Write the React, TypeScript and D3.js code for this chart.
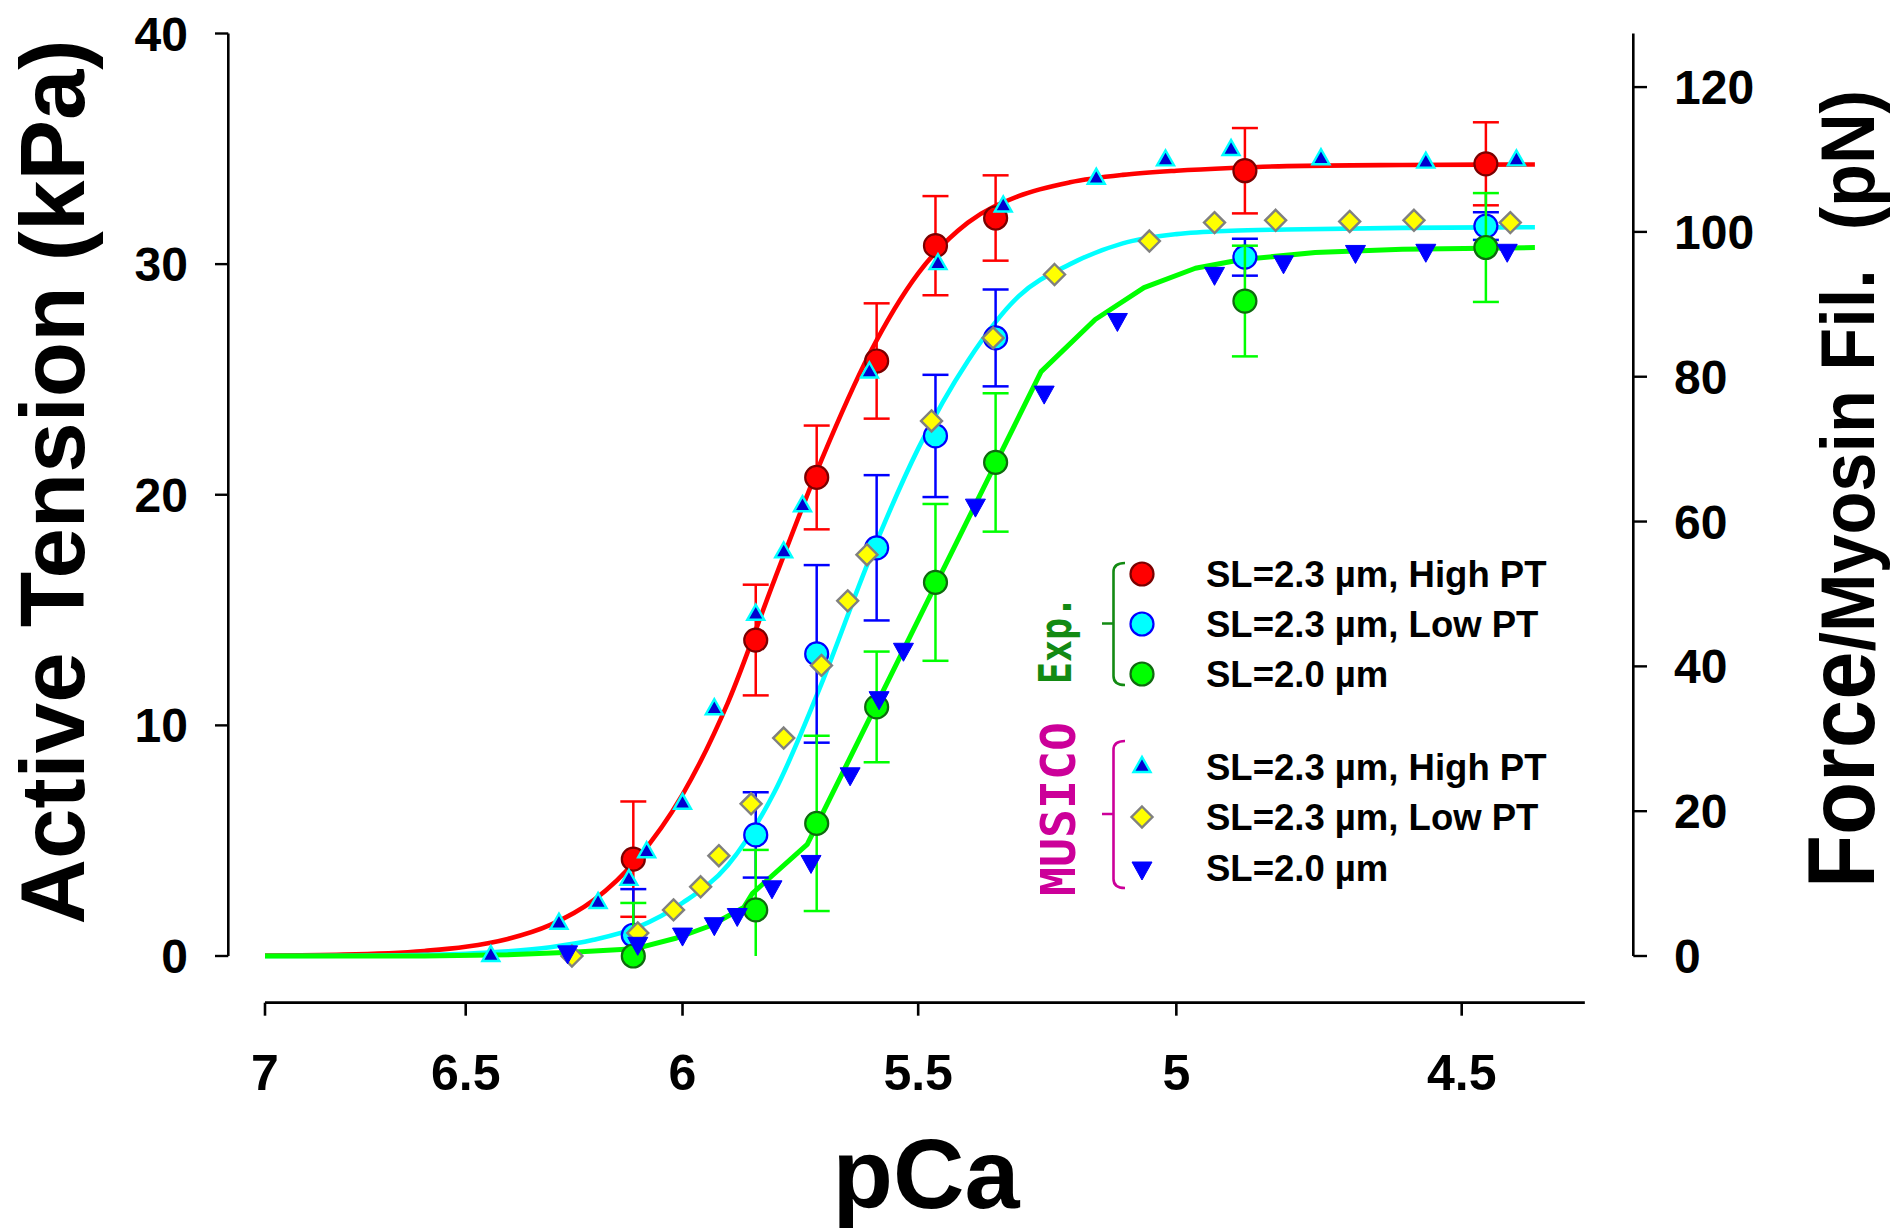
import React from "react";
import * as d3 from "d3";

// ---------- data ----------
const xTicks = [7, 6.5, 6, 5.5, 5, 4.5];
const yTicks = [0, 10, 20, 30, 40];
const yRightTicks = [0, 20, 40, 60, 80, 100, 120];

// Experimental data (circles with SD bars)
const expPCa = [6.11, 5.84, 5.71, 5.585, 5.465, 5.345, 4.875, 4.46];
const expHighPT = [4.2, 13.7, 20.75, 25.8, 30.8, 32.0, 34.05, 34.35];
const expHighPTErr = [2.5, 2.4, 2.25, 2.5, 2.15, 1.85, 1.85, 1.8];
const expLowPT = [0.9, 5.25, 13.1, 17.7, 22.55, 26.8, 30.3, 31.65];
const expLowPTErr = [2.0, 1.85, 3.85, 3.15, 2.65, 2.1, 0.8, 0.6];
const expSL20 = [0.0, 2.0, 5.75, 10.8, 16.2, 21.4, 28.4, 30.72];
const expSL20Err = [2.3, 2.6, 3.8, 2.4, 3.4, 3.0, 2.4, 2.36];

// MUSICO simulations
const musHighPCa = [6.44, 6.28, 6.19, 6.12, 6.08, 6.0, 5.93, 5.84, 5.78, 5.74, 5.6, 5.46, 5.33, 5.15, 5.02, 4.9, 4.74, 4.56, 4.41];
const musHighT = [0.0, 1.4, 2.3, 3.3, 4.5, 6.6, 10.7, 14.8, 17.5, 19.5, 25.3, 30.0, 32.5, 33.7, 34.5, 34.95, 34.55, 34.4, 34.5];
const musLowPCa = [6.25, 6.1, 6.02, 5.96, 5.92, 5.85, 5.78, 5.7, 5.645, 5.605, 5.473, 5.35, 5.23, 5.05, 4.93, 4.82, 4.69, 4.58, 4.42];
const musLowT = [0.0, 1.0, 2.0, 3.0, 4.35, 6.6, 9.45, 12.6, 15.4, 17.4, 23.2, 26.8, 29.55, 31.0, 31.8, 31.9, 31.85, 31.9, 31.8];
const musSL20PCa = [6.26, 6.1, 6.0, 5.93, 5.88, 5.805, 5.722, 5.64, 5.58, 5.53, 5.385, 5.25, 5.11, 4.93, 4.806, 4.68, 4.56, 4.425];
const musSL20T = [0.18, 0.55, 0.95, 1.4, 1.8, 3.0, 4.1, 7.9, 11.2, 13.3, 19.55, 24.45, 27.6, 29.6, 30.1, 30.55, 30.6, 30.6];

// Fitted curves
const fitPCa = [7.0, 6.8, 6.6, 6.5, 6.4, 6.3, 6.2, 6.1, 6.0, 5.9, 5.8, 5.7, 5.6, 5.5, 5.4, 5.3, 5.2, 5.1, 5.0, 4.9, 4.8, 4.6, 4.38];
const fitHighPT = [0.02, 0.06, 0.22, 0.4, 0.74, 1.35, 2.42, 4.24, 7.0, 11.0, 16.3, 21.5, 26.1, 29.6, 31.8, 32.95, 33.55, 33.87, 34.05, 34.17, 34.25, 34.3, 34.32];
const fitLowPT = [0.0, 0.01, 0.05, 0.1, 0.2, 0.38, 0.7, 1.25, 2.3, 3.95, 7.1, 11.8, 17.2, 22.0, 25.8, 28.6, 30.0, 30.9, 31.3, 31.45, 31.5, 31.57, 31.6];
const fitSL20PCa = [7.0, 6.6, 6.4, 6.24, 6.107, 6.013, 5.94, 5.866, 5.847, 5.73, 5.256, 5.152, 5.06, 4.965, 4.88, 4.75, 4.6, 4.38];
const fitSL20 = [0.0, 0.0, 0.05, 0.17, 0.31, 0.78, 1.3, 2.1, 2.72, 4.84, 25.34, 27.6, 28.98, 29.82, 30.2, 30.5, 30.65, 30.72];

const legendExp = ["SL=2.3 µm, High PT", "SL=2.3 µm, Low PT", "SL=2.0 µm"];
const legendMus = ["SL=2.3 µm, High PT", "SL=2.3 µm, Low PT", "SL=2.0 µm"];

// ---------- layout ----------
const W = 1893;
const H = 1232;
const FONT = "'Liberation Sans', Arial, Helvetica, sans-serif";

const x = d3.scaleLog().domain([7, 4.5]).range([265, 1461.7]);
const xEnd = 4.3;
const y = d3.scaleLinear().domain([0, 40]).range([956, 33.5]);
const yR = d3.scaleLinear().domain([0, 127.4]).range([956, 33.5]);

const RED = "#ff0000";
const CYAN = "#00ffff";
const LIME = "#00ff00";
const BLUE = "#0000ff";

function triUp(cx: number, cy: number, w: number, h: number) {
  return `M${cx - w / 2},${cy + h / 3}L${cx + w / 2},${cy + h / 3}L${cx},${cy - (2 * h) / 3}Z`;
}
function triDown(cx: number, cy: number, w: number, h: number) {
  return `M${cx - w / 2},${cy - h / 3}L${cx + w / 2},${cy - h / 3}L${cx},${cy + (2 * h) / 3}Z`;
}
function diamond(cx: number, cy: number, r: number) {
  return `M${cx},${cy - r}L${cx + r},${cy}L${cx},${cy + r}L${cx - r},${cy}Z`;
}

function ErrorBars({ vals, errs, color }: { vals: number[]; errs: number[]; color: string }) {
  return (
    <g stroke={color} strokeWidth={2.5} fill="none">
      {expPCa.map((p, i) => {
        const cx = x(p);
        const hi = vals[i] + errs[i];
        const lo = Math.max(0, vals[i] - errs[i]);
        const showLo = vals[i] - errs[i] > 0;
        return (
          <g key={i}>
            <line x1={cx} x2={cx} y1={y(hi)} y2={y(lo)} />
            <line x1={cx - 13} x2={cx + 13} y1={y(hi)} y2={y(hi)} />
            {showLo && <line x1={cx - 13} x2={cx + 13} y1={y(lo)} y2={y(lo)} />}
          </g>
        );
      })}
    </g>
  );
}

function Circles({ vals, fill, stroke }: { vals: number[]; fill: string; stroke: string }) {
  return (
    <g>
      {expPCa.map((p, i) => (
        <circle key={i} cx={x(p)} cy={y(vals[i])} r={11.5} fill={fill} stroke={stroke} strokeWidth={2.2} />
      ))}
    </g>
  );
}

export default function App() {
  const lineSmooth = d3
    .line<number>()
    .x((_, i) => x(fitPCa[i]))
    .curve(d3.curveMonotoneX);
  const redPath = lineSmooth.y((d) => y(d))(fitHighPT) || "";
  const cyanPath = lineSmooth.y((d) => y(d))(fitLowPT) || "";
  const greenPath =
    d3
      .line<number>()
      .x((_, i) => x(fitSL20PCa[i]))
      .y((d) => y(d))
      .curve(d3.curveLinear)(fitSL20) || "";

  const legX = 1142;
  const legTextX = 1206;
  const expRows = [574, 624, 674];
  const musRows = [767, 817, 868];

  return (
    <svg
      width={W}
      height={H}
      viewBox={`0 0 ${W} ${H}`}
      style={{ position: "absolute", left: 0, top: 0, background: "#fff" }}
      fontFamily={FONT}
      fontWeight="bold"
    >
      <rect x={0} y={0} width={W} height={H} fill="#fff" />

      {/* Left axis */}
      <line x1={228.3} x2={228.3} y1={y(40)} y2={y(0)} stroke="#000" strokeWidth={2.6} />
      {yTicks.map((t) => (
        <g key={t}>
          <line x1={215} x2={228.3} y1={y(t)} y2={y(t)} stroke="#000" strokeWidth={2.4} />
          <text x={188} y={y(t) + 17} textAnchor="end" fontSize={48}>
            {t}
          </text>
        </g>
      ))}

      {/* Right axis */}
      <line x1={1633.3} x2={1633.3} y1={yR(127.4)} y2={yR(0)} stroke="#000" strokeWidth={2.6} />
      {yRightTicks.map((t) => (
        <g key={t}>
          <line x1={1633.3} x2={1647} y1={yR(t)} y2={yR(t)} stroke="#000" strokeWidth={2.4} />
          <text x={1674} y={yR(t) + 17} textAnchor="start" fontSize={48}>
            {t}
          </text>
        </g>
      ))}

      {/* Bottom axis */}
      <line x1={x(7)} x2={x(xEnd)} y1={1002.7} y2={1002.7} stroke="#000" strokeWidth={2.8} />
      {xTicks.map((t) => (
        <g key={t}>
          <line x1={x(t)} x2={x(t)} y1={1002.7} y2={1015.7} stroke="#000" strokeWidth={2.6} />
          <text x={x(t)} y={1090} textAnchor="middle" fontSize={50}>
            {t}
          </text>
        </g>
      ))}

      {/* Axis titles */}
      <text x={926} y={1208} textAnchor="middle" fontSize={98} textLength={187} lengthAdjust="spacingAndGlyphs">
        pCa
      </text>
      <text
        transform="translate(84,482) rotate(-90)"
        textAnchor="middle"
        fontSize={90}
        textLength={885}
        lengthAdjust="spacingAndGlyphs"
      >
        Active Tension (kPa)
      </text>
      <text
        transform="translate(1874,888) rotate(-90)"
        textAnchor="start"
        textLength={798}
        lengthAdjust="spacingAndGlyphs"
      >
        <tspan fontSize={94}>Force</tspan>
        <tspan fontSize={76}>{"/Myosin Fil.\u00A0\u00A0(pN)"}</tspan>
      </text>

      {/* Fitted curves */}
      <path d={redPath} fill="none" stroke={RED} strokeWidth={4.6} />
      <path d={cyanPath} fill="none" stroke={CYAN} strokeWidth={4.6} />
      <path d={greenPath} fill="none" stroke={LIME} strokeWidth={5} strokeLinejoin="round" />

      {/* Experimental */}
      <ErrorBars vals={expHighPT} errs={expHighPTErr} color={RED} />
      <Circles vals={expHighPT} fill={RED} stroke="#7a0000" />
      <ErrorBars vals={expLowPT} errs={expLowPTErr} color={BLUE} />
      <Circles vals={expLowPT} fill={CYAN} stroke={BLUE} />
      <ErrorBars vals={expSL20} errs={expSL20Err} color={LIME} />
      <Circles vals={expSL20} fill={LIME} stroke="#0f6a0f" />

      {/* MUSICO */}
      {musLowPCa.map((p, i) => (
        <path key={"d" + i} d={diamond(x(p), y(musLowT[i]), 10.5)} fill="#ffff00" stroke="#808080" strokeWidth={2.4} />
      ))}
      {musHighPCa.map((p, i) => (
        <path key={"u" + i} d={triUp(x(p), y(musHighT[i]), 17, 15)} fill="#0000d0" stroke={CYAN} strokeWidth={2.4} strokeLinejoin="miter" />
      ))}
      {musSL20PCa.map((p, i) => (
        <path key={"v" + i} d={triDown(x(p), y(musSL20T[i]), 20, 18)} fill={BLUE} stroke={BLUE} strokeWidth={1} />
      ))}

      {/* Legend */}
      <path
        d="M1125,563 Q1113.5,563 1113.5,572 L1113.5,676 Q1113.5,685 1125,685 M1113.5,623.5 L1102,623.5"
        fill="none"
        stroke="#138a13"
        strokeWidth={2.6}
      />
      <path
        d="M1125,741 Q1113.5,741 1113.5,750 L1113.5,879 Q1113.5,888 1125,888 M1113.5,814 L1102,814"
        fill="none"
        stroke="#cc0099"
        strokeWidth={2.6}
      />
      <text
        transform="translate(1071,640) rotate(-90)"
        textAnchor="middle"
        fontSize={44}
        fill="#138a13"
        fontFamily="'DejaVu Sans Mono', 'Liberation Mono', monospace"
        textLength={88}
        lengthAdjust="spacingAndGlyphs"
      >
        Exp.
      </text>
      <text
        transform="translate(1075,809) rotate(-90)"
        textAnchor="middle"
        fontSize={48}
        fill="#cc0099"
        fontFamily="'DejaVu Sans Mono', 'Liberation Mono', monospace"
        textLength={174}
        lengthAdjust="spacingAndGlyphs"
      >
        MUSICO
      </text>

      <circle cx={legX} cy={expRows[0]} r={11.5} fill={RED} stroke="#7a0000" strokeWidth={2.2} />
      <circle cx={legX} cy={expRows[1]} r={11.5} fill={CYAN} stroke={BLUE} strokeWidth={2.2} />
      <circle cx={legX} cy={expRows[2]} r={11.5} fill={LIME} stroke="#0f6a0f" strokeWidth={2.2} />
      <path d={triUp(legX, musRows[0], 17, 15)} fill="#0000d0" stroke={CYAN} strokeWidth={2.4} />
      <path d={diamond(legX, musRows[1], 10.5)} fill="#ffff00" stroke="#808080" strokeWidth={2.4} />
      <path d={triDown(legX, musRows[2], 20, 18)} fill={BLUE} stroke={BLUE} strokeWidth={1} />

      {legendExp.map((t, i) => (
        <text key={"le" + i} x={legTextX} y={expRows[i] + 13} fontSize={36.5}>
          {t}
        </text>
      ))}
      {legendMus.map((t, i) => (
        <text key={"lm" + i} x={legTextX} y={musRows[i] + 13} fontSize={36.5}>
          {t}
        </text>
      ))}
    </svg>
  );
}
